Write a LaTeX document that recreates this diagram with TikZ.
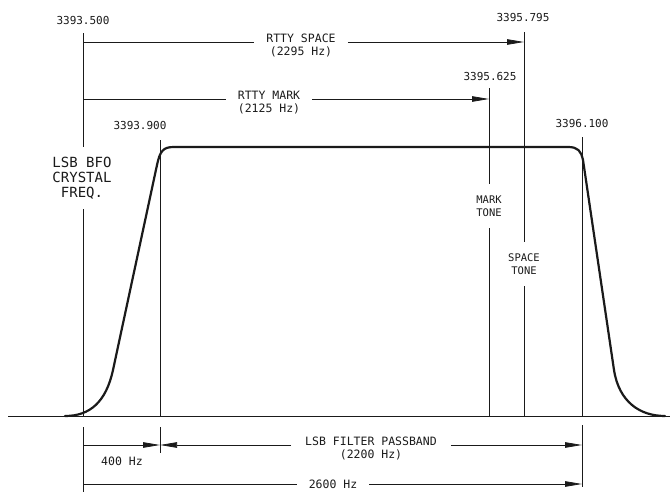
\documentclass[tikz,border=0pt]{standalone}
\usepackage{fontspec}
\setmainfont{DejaVu Sans Mono}
\usetikzlibrary{arrows.meta,positioning,calc}
\definecolor{ink}{HTML}{1A1A1A}
\tikzset{
  ext/.style={line width=0.6pt, draw=ink},
  leader/.style={ext, shorten <=9pt},
  dimline/.style={line width=0.75pt, draw=ink},
  dimarr/.style={dimline, -{Triangle[length=17pt,width=5.5pt]}},
  band/.style={line width=2.2pt, draw=ink, line join=round, line cap=round},
  freq/.style={font=\fontsize{11}{12}\selectfont, text=ink, inner sep=0pt},
  dimlbl/.style={font=\fontsize{11.5}{13}\selectfont, text=ink, align=center,
    inner xsep=12pt, inner ysep=0pt},
  tonelbl/.style={font=\fontsize{10.5}{12.5}\selectfont, text=ink, align=center,
    inner xsep=0pt, inner ysep=12pt}
}

\begin{document}
\begin{tikzpicture}[x=1pt, y=-1pt]
  \useasboundingbox (0,0) rectangle (670,492);
  % frequencies on the axis
  \coordinate (bfo) at (83,416);
  \coordinate (lo) at (160,416);
  \coordinate (mark) at (489,416);
  \coordinate (space) at (524,416);
  \coordinate (hi) at (582,416);
  % dimension rows
  \coordinate (sprow) at (83,42);
  \coordinate (mkrow) at (83,99);
  \coordinate (pbrow) at (83,445);
  \coordinate (wdrow) at (83,484);

  \node[freq] (lbl500) at (83,20) {3393.500};
  \node[freq] (lbl900) at (140,125) {3393.900};
  \node[freq] (lbl625) at (490,76) {3395.625};
  \node[freq] (lbl795) at (523,17) {3395.795};
  \node[freq] (lbl100) at (582,123) {3396.100};

  \node[dimlbl] (spacelbl) at (301,45) {RTTY SPACE\\(2295 Hz)};
  \node[dimlbl] (marklbl) at (269,102.5) {RTTY MARK\\(2125 Hz)};
  \node[dimlbl, inner xsep=14pt] (passlbl) at (371,448) {LSB FILTER PASSBAND\\(2200 Hz)};
  \node[dimlbl] (widthlbl) at (333,484) {2600 Hz};
  \node[dimlbl, inner xsep=0pt] (offlbl) at (122,461) {400 Hz};

  \node[tonelbl] (marktone) at (489,206) {MARK\\TONE};
  \node[tonelbl] (spacetone) at (524,264) {SPACE\\TONE};
  \node[tonelbl, font=\fontsize{14}{15}\selectfont, inner ysep=10pt] (bfolbl) at (82,178)
    {LSB BFO\\CRYSTAL\\FREQ.};

  % axis and filter response
  \draw[ext] (8,416) -- (670,416);
  \draw[band] (65,416) .. controls (90,416) and (106,402) .. (113,370)
    -- (157,165) .. controls (160,151) and (163,147) .. (174,147)
    -- (568,147) .. controls (578,147) and (581,151) .. (583,160)
    -- (614,370) .. controls (619,402) and (640,416) .. (665,416);

  % extension lines
  \draw[leader] (bfo |- lbl500.south) -- (bfo |- bfolbl.north);
  \draw[ext] (bfo |- bfolbl.south) -- (bfo);
  \draw[ext] ($(bfo)+(0,11)$) -- ($(bfo)+(0,76)$);
  \draw[leader, shorten <=11pt] (lo |- lbl900.south) -- (lo);
  \draw[ext] ($(lo)+(0,11)$) -- ($(lo)+(0,37)$);
  \draw[leader, shorten <=8pt] (mark |- lbl625.south) -- (marktone.north);
  \draw[ext] (marktone.south) -- (mark);
  \draw[leader, shorten <=11pt] (space |- lbl795.south) -- (spacetone.north);
  \draw[ext] (spacetone.south) -- (space);
  \draw[leader, shorten <=10pt] (hi |- lbl100.south) -- (hi);
  \draw[ext] ($(hi)+(0,9)$) -- ($(hi)+(0,71)$);

  % dimensions
  \draw[dimline] (sprow) -- (sprow -| spacelbl.west);
  \draw[dimarr] (sprow -| spacelbl.east) -- (sprow -| space);
  \draw[dimline] (mkrow) -- (mkrow -| marklbl.west);
  \draw[dimarr] (mkrow -| marklbl.east) -- (mkrow -| mark);
  \draw[dimarr] (pbrow) -- (pbrow -| lo);
  \draw[dimarr] (pbrow -| passlbl.west) -- (pbrow -| lo);
  \draw[dimarr] (pbrow -| passlbl.east) -- (pbrow -| hi);
  \draw[dimline] (wdrow) -- (wdrow -| widthlbl.west);
  \draw[dimarr] (wdrow -| widthlbl.east) -- (wdrow -| hi);
\end{tikzpicture}
\end{document}
